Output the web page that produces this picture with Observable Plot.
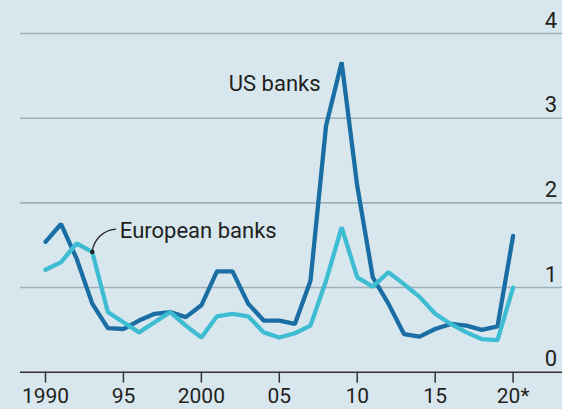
<!DOCTYPE html>
<html>
<head>
<meta charset="utf-8">
<script src="https://cdn.jsdelivr.net/npm/d3@7"></script>
<script src="https://cdn.jsdelivr.net/npm/@observablehq/plot@0.6"></script>
<style>
  html, body { margin: 0; padding: 0; background: #d8e7ee; }
  #chart svg { display: block; }
</style>
</head>
<body>
<div id="chart"></div>
<script>
const years = [1990,1991,1992,1993,1994,1995,1996,1997,1998,1999,2000,2001,2002,2003,2004,2005,2006,2007,2008,2009,2010,2011,2012,2013,2014,2015,2016,2017,2018,2019,2020];
const usBanks = [1.54,1.75,1.34,0.81,0.52,0.51,0.61,0.69,0.71,0.65,0.79,1.19,1.19,0.81,0.61,0.61,0.57,1.08,2.91,3.66,2.20,1.12,0.81,0.45,0.42,0.51,0.57,0.55,0.50,0.54,1.61];
const europeanBanks = [1.21,1.30,1.52,1.42,0.71,0.59,0.47,0.59,0.71,0.55,0.41,0.66,0.69,0.66,0.47,0.41,0.46,0.55,1.08,1.71,1.12,1.01,1.18,1.04,0.89,0.69,0.57,0.47,0.39,0.38,1.00];
const xTickValues = [1990,1995,2000,2005,2010,2015,2020];
const xTickLabels = ["1990","95","2000","05","10","15","20*"];
const yTickValues = [0,1,2,3,4];

const us = years.map((y, i) => ({year: y, value: usBanks[i]}));
const eu = years.map((y, i) => ({year: y, value: europeanBanks[i]}));
const xLabel = new Map(xTickValues.map((v, i) => [v, xTickLabels[i]]));

const chart = Plot.plot({
  width: 562,
  height: 409,
  marginTop: 33,
  marginBottom: 37.3,
  marginLeft: 45,
  marginRight: 49.4,
  style: {background: "#d8e7ee", fontFamily: "Roboto, sans-serif", fontSize: "22px", color: "#231f20", overflow: "visible"},
  x: {domain: [1990, 2020]},
  y: {domain: [0, 4]},
  marks: [
    Plot.ruleY([1,2,3,4], {stroke: "#9fb0b9", strokeWidth: 1.6, insetLeft: -25, insetRight: -50}),
    Plot.axisY(yTickValues, {anchor: "right", tickSize: 0, tickPadding: 0, textAnchor: "end", dx: 44, dy: -13, label: null, tickFormat: d3.format("d"), fill: "#231f20", fontSize: 22}),
    Plot.axisX(xTickValues, {tickSize: 11, tickPadding: 5, tickFormat: d => xLabel.get(d), label: null, stroke: "#333", strokeWidth: 1.5, fill: "#231f20", fontSize: 21}),
    Plot.ruleY([0], {stroke: "#333", strokeWidth: 1.6, insetLeft: -25, insetRight: -50}),
    Plot.line(us, {x: "year", y: "value", stroke: "#1a6ea3", strokeWidth: 4.3, strokeLinejoin: "miter"}),
    Plot.line(eu, {x: "year", y: "value", stroke: "#3ebcd2", strokeWidth: 4.3, strokeLinejoin: "miter"}),
    Plot.text(["US banks"], {x: 2007.65, y: 3.41, text: d => d, textAnchor: "end", fill: "#231f20", fontSize: 22}),
    Plot.text(["European banks"], {x: 1994.77, y: 1.67, text: d => d, textAnchor: "start", fill: "#231f20", fontSize: 22}),
    Plot.arrow([0], {x1: 1994.5, y1: 1.69, x2: 1993.0, y2: 1.42, bend: -40, headLength: 0, stroke: "#231f20", strokeWidth: 1.3}),
    Plot.dot([0], {x: 1993.0, y: 1.42, r: 2.2, fill: "#231f20", stroke: "none"})
  ]
});
document.getElementById("chart").append(chart);
</script>
</body>
</html>
